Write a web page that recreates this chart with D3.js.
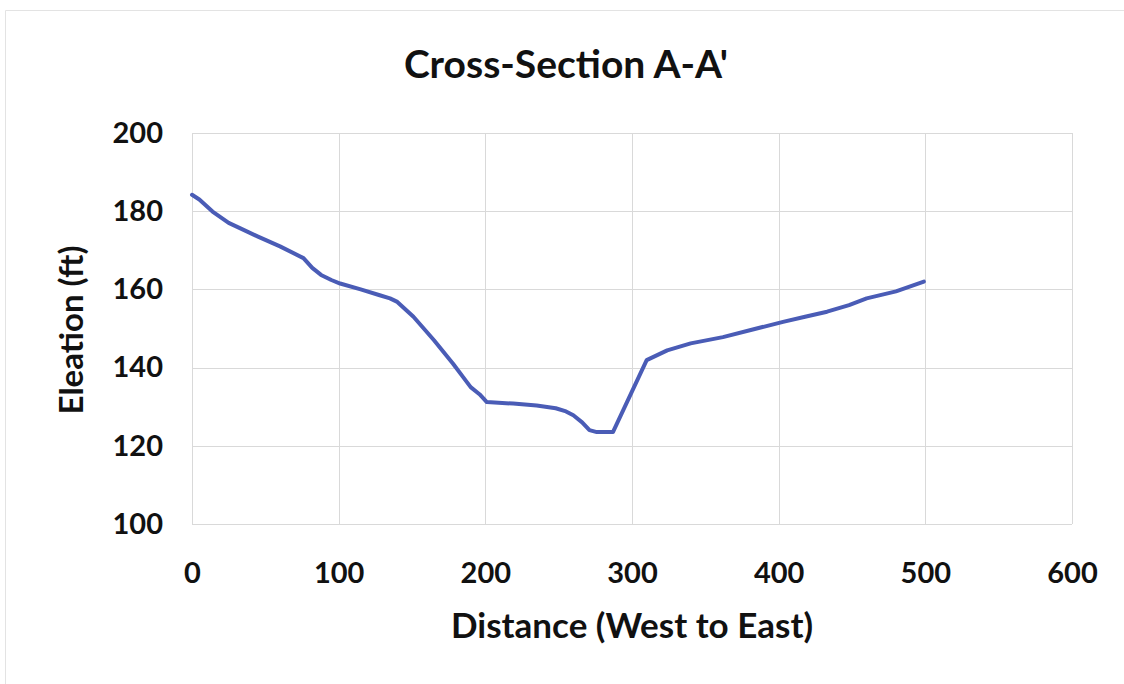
<!DOCTYPE html>
<html>
<head>
<meta charset="utf-8" />
<title>Cross-Section A-A'</title>
<script src="https://cdn.jsdelivr.net/npm/d3@7"></script>
<style>
body { margin: 0; background: #fff; }
svg text { font-family: Lato, "Open Sans", sans-serif; font-weight: bold; fill: #111; }
</style>
</head>
<body>
<div id="chart"></div>
<script>
// values
const distance = [0, 5, 14, 25, 33, 45, 60, 76, 82, 88, 95, 101, 115, 128, 135, 140, 151, 165, 178, 185, 190, 196, 199, 201, 219, 235, 248, 255, 260, 266, 271, 276, 287, 310, 324, 340, 362, 383, 403, 418, 433, 448, 460, 480, 499];
const elevation = [184.2, 183, 179.9, 177, 175.6, 173.5, 171, 168, 165.5, 163.7, 162.4, 161.5, 160, 158.5, 157.7, 156.8, 153, 147, 141, 137.5, 135, 133.2, 132, 131.2, 130.8, 130.3, 129.6, 128.8, 127.8, 126, 124, 123.5, 123.5, 141.9, 144.4, 146.2, 147.8, 149.8, 151.7, 153, 154.3, 156, 157.7, 159.5, 162];
const xTicks = [0, 100, 200, 300, 400, 500, 600];
const yTicks = [100, 120, 140, 160, 180, 200];

const width = 1124, height = 684;
const margin = {top: 133, right: 52, bottom: 160, left: 192};

const svg = d3.select("#chart").append("svg")
	.attr("width", width)
	.attr("height", height);

// faint frame of the original screenshot
svg.append("path")
	.attr("d", "M5.5," + height + "V10.5H" + width)
	.attr("fill", "none")
	.attr("stroke", "#e3e3e3");

const x = d3.scaleLinear().domain([0, 600]).range([margin.left, width - margin.right]);
const y = d3.scaleLinear().domain([100, 200]).range([height - margin.bottom, margin.top]);

// gridlines
svg.append("g").selectAll("line")
	.data(xTicks)
	.join("line")
		.attr("x1", d => Math.round(x(d)) + 0.5).attr("x2", d => Math.round(x(d)) + 0.5)
		.attr("y1", y(200)).attr("y2", y(100))
		.attr("stroke", "#d9d9d9");
svg.append("g").selectAll("line")
	.data(yTicks)
	.join("line")
		.attr("x1", x(0)).attr("x2", x(600))
		.attr("y1", d => Math.round(y(d)) + 0.5).attr("y2", d => Math.round(y(d)) + 0.5)
		.attr("stroke", "#d9d9d9");

// axes: labels only, no domain or tick marks
const xAxis = svg.append("g")
	.attr("transform", "translate(0," + y(100) + ")")
	.call(d3.axisBottom(x).tickValues(xTicks).tickSize(0).tickPadding(38));
xAxis.select(".domain").remove();
xAxis.selectAll("text").style("font-size", "29px");

const yAxis = svg.append("g")
	.attr("transform", "translate(" + x(0) + ",0)")
	.call(d3.axisLeft(y).tickValues(yTicks).tickSize(0).tickPadding(29));
yAxis.select(".domain").remove();
yAxis.selectAll("text").style("font-size", "29px");

// the profile
const pts = distance.map((d, i) => [d, elevation[i]]);
svg.append("path")
	.datum(pts)
	.attr("fill", "none")
	.attr("stroke", "#4a5cb6")
	.attr("stroke-width", 4)
	.attr("stroke-linejoin", "round")
	.attr("stroke-linecap", "round")
	.attr("d", d3.line().x(d => x(d[0])).y(d => y(d[1])));

// titles
svg.append("text")
	.attr("x", 566).attr("y", 78)
	.attr("text-anchor", "middle")
	.style("font-size", "39px")
	.text("Cross-Section A-A'");

svg.append("text")
	.attr("x", 632).attr("y", 638)
	.attr("text-anchor", "middle")
	.style("font-size", "35px")
	.text("Distance (West to East)");

svg.append("text")
	.attr("transform", "translate(83,330) rotate(-90)")
	.attr("text-anchor", "middle")
	.style("font-size", "33px")
	.text("Eleation (ft)");
</script>
</body>
</html>
